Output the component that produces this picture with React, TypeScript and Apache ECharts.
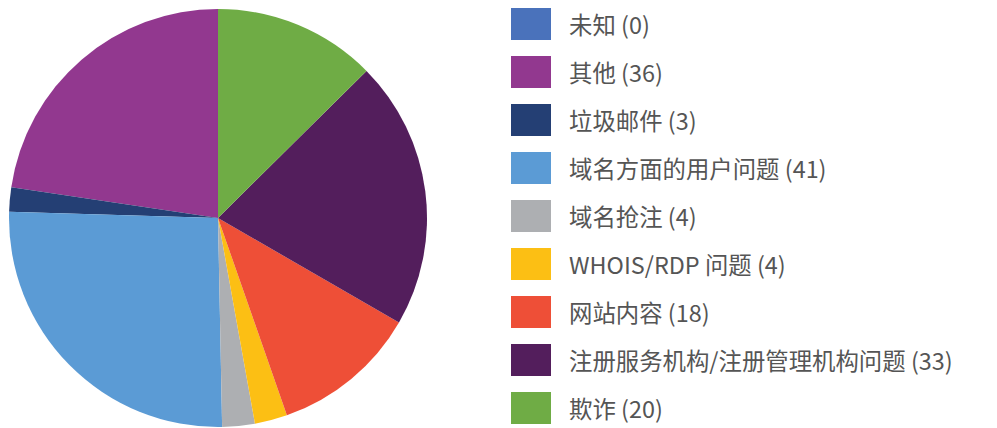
import React, { useEffect, useRef } from "react";
import * as echarts from "echarts";

const categories = [
  "未知",
  "其他",
  "垃圾邮件",
  "域名方面的用户问题",
  "域名抢注",
  "WHOIS/RDP 问题",
  "网站内容",
  "注册服务机构/注册管理机构问题",
  "欺诈",
];
const values = [0, 36, 3, 41, 4, 4, 18, 33, 20];
const colors = [
  "#4a72bb",
  "#92388f",
  "#243f74",
  "#5b9bd5",
  "#adafb2",
  "#fcbf14",
  "#ee4f37",
  "#531e5c",
  "#6fac45",
];

export default function App() {
  const ref = useRef<HTMLDivElement>(null);
  useEffect(() => {
    document.body.style.margin = "0";
    const chart = echarts.init(ref.current!, null, { renderer: "svg" });
    const data = categories.map((c, i) => ({
      name: c,
      value: values[i],
      itemStyle: { color: colors[i] },
    }));
    chart.setOption({
      animation: false,
      legend: {
        orient: "vertical",
        left: 511,
        top: 8,
        height: 420,
        padding: 0,
        itemWidth: 40,
        itemHeight: 32,
        itemGap: 16,
        icon: "rect",
        formatter: (name: string) => {
          const i = categories.indexOf(name);
          return `${name} (${values[i]})`;
        },
        textStyle: {
          fontFamily: "Noto Sans CJK SC",
          fontSize: 23.4,
          lineHeight: 32,
          color: "#555555",
          padding: [0, 0, 0, 13],
        },
      },
      series: [
        {
          type: "pie",
          center: [218, 218],
          radius: 209,
          startAngle: 90,
          clockwise: false,
          label: { show: false },
          labelLine: { show: false },
          emphasis: { disabled: true },
          itemStyle: { borderWidth: 0 },
          data,
        },
      ],
    });
    return () => chart.dispose();
  }, []);
  return <div ref={ref} style={{ width: 997, height: 428 }} />;
}
